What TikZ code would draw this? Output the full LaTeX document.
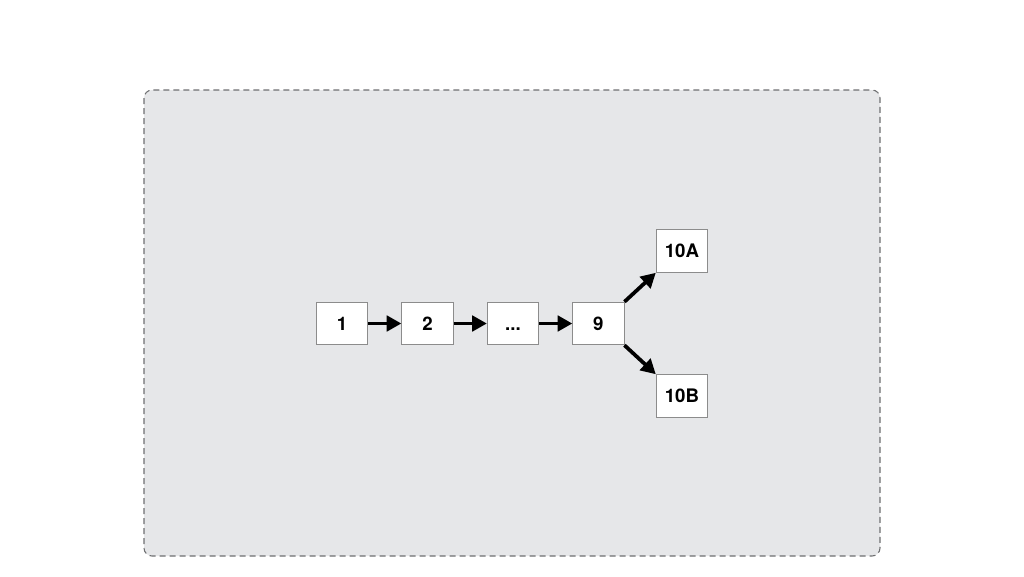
\documentclass[tikz,border=0pt]{standalone}
\usepackage{fontspec}
\setmainfont{TeX Gyre Heros}
\usepackage{xcolor}
\usepackage{tikz}
\usetikzlibrary{arrows.meta,positioning}
\definecolor{panel}{HTML}{E6E7E9}
\definecolor{panelrim}{HTML}{6E6F71}
\definecolor{boxrim}{HTML}{8C8C8C}
\tikzset{
  stage/.style={rectangle, draw=boxrim, fill=white, line width=0.6pt,
                minimum width=38.5pt, minimum height=32pt, inner sep=0pt,
                text height=10pt, text depth=0pt,
                font=\fontsize{14}{16}\selectfont\bfseries},
  flow/.style={-{Triangle[length=11pt,width=11.5pt]}, draw=black, line width=2.8pt},
}

\begin{document}
\begin{tikzpicture}[x=0.75pt, y=-0.75pt, node distance=25pt]
\useasboundingbox (0,0) rectangle (1024,576);
% grey panel
\draw[fill=panel, draw=panelrim, line width=0.8pt, dash pattern=on 4.5pt off 3pt,
      rounded corners=6pt] (144,90) rectangle (880,556);
% chain of stages
\node[stage] (n1) at (342,323.5) {1};
\node[stage, right=of n1] (n2) {2};
\node[stage, right=of n2] (ndots) {...};
\node[stage, right=of ndots] (n9) {9};
\node[stage, above right=21.75pt and 23.5pt of n9] (n10a) {10A};
\node[stage, below right=21.75pt and 23.5pt of n9] (n10b) {10B};
\draw[flow] (n1) -- (n2);
\draw[flow] (n2) -- (ndots);
\draw[flow] (ndots) -- (n9);
\draw[flow] (n9.north east) -- (n10a.south west);
\draw[flow] (n9.south east) -- (n10b.north west);
\end{tikzpicture}
\end{document}
